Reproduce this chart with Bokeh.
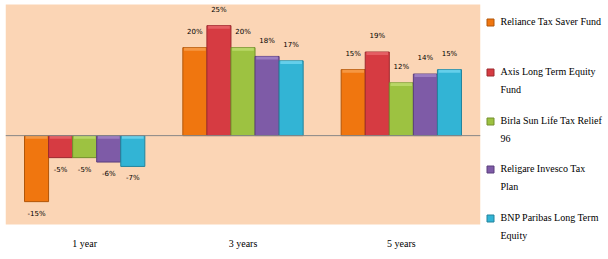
from bokeh.plotting import figure
from bokeh.models import ColumnDataSource, FactorRange, Range1d, Span, BoxAnnotation
from bokeh.transform import dodge
from bokeh.layouts import row
from bokeh.core.properties import value
from bokeh.embed import file_html
from bokeh.resources import INLINE

categories = ["1 year", "3 years", "5 years"]
funds = ["Reliance Tax Saver Fund", "Axis Long Term Equity Fund",
         "Birla Sun Life Tax Relief 96", "Religare Invesco Tax Plan",
         "BNP Paribas Long Term Equity"]
legend_lines = ["Reliance Tax Saver Fund", "Axis Long Term Equity\nFund",
                "Birla Sun Life Tax Relief\n96", "Religare Invesco Tax\nPlan",
                "BNP Paribas Long Term\nEquity"]
reliance = [-15, 20, 15]
axis_ltef = [-5, 25, 19]
birla = [-5, 20, 12]
religare = [-6, 18, 14]
bnp = [-7, 17, 15]
series = [reliance, axis_ltef, birla, religare, bnp]

fills = ["#F0760F", "#D63B42", "#9DC241", "#7E5BA7", "#32B4D5"]
edges = ["#B0560A", "#9C2A2F", "#748F2E", "#5A3F7D", "#23839C"]
tops = ["#F8A050", "#E8686C", "#C0DC70", "#A486C8", "#70D6F0"]

SERIF = "Liberation Serif"
Y_MIN, Y_MAX = -20.2, 29.8  # plot-area value range

p = figure(width=482, height=259, x_range=FactorRange(*categories, range_padding=0),
           y_range=Range1d(-28.15, 30.71), output_backend="svg", toolbar_location=None,
           x_axis_location=None, y_axis_location=None,
           min_border_left=5, min_border_right=2, min_border_top=0, min_border_bottom=0)
p.background_fill_color = "white"
p.border_fill_color = "white"
p.outline_line_color = None
p.xgrid.visible = False
p.ygrid.visible = False
p.add_layout(BoxAnnotation(top=Y_MAX, bottom=Y_MIN, fill_color="#FBD5B5", fill_alpha=1,
                           line_color=None, level="underlay"))

bw = 0.152
offsets = [-2 * bw, -bw, 0, bw, 2 * bw]
for vals, off, fc, ec, tc in zip(series, offsets, fills, edges, tops):
    src = ColumnDataSource(dict(
        cat=categories, val=vals,
        top=[max(v, 0) for v in vals],
        bot=[min(v, 0) for v in vals],
        htop=[max(v, 0) for v in vals],
        hbot=[max(v, 0) - 0.7 for v in vals],
        lab=[f"{v}%" for v in vals],
        laby=[v + 3.6 if v >= 0 else v - 2.7 for v in vals],
    ))
    x = dodge("cat", off, range=p.x_range)
    p.vbar(x=x, top="top", bottom="bot", width=bw, source=src,
           fill_color=fc, line_color=ec, line_width=1)
    p.vbar(x=x, top="htop", bottom="hbot", width=bw * 0.9, source=src,
           fill_color=tc, line_color=None, fill_alpha=0.8)
    p.text(x=x, y="laby", text="lab", source=src, text_align="center",
           text_baseline="middle", text_font=value("DejaVu Sans"),
           text_font_size="7px", text_color="#000000")

p.add_layout(Span(location=0, dimension="width", line_color="#868686", line_width=1))

# category labels under the plot area
csrc = ColumnDataSource(dict(cat=categories, y=[Y_MIN - 4.3] * len(categories)))
p.text(x="cat", y="y", text="cat", source=csrc, text_align="center",
       text_baseline="middle", text_font=value(SERIF), text_font_size="10px",
       text_color="#000000")

# legend panel: y range in pixels from the top
lg = figure(width=126, height=259, x_range=Range1d(0, 126), y_range=Range1d(259, 0),
            output_backend="svg", toolbar_location=None,
            x_axis_location=None, y_axis_location=None,
            min_border_left=0, min_border_right=0, min_border_top=0, min_border_bottom=0)
lg.grid.visible = False
lg.outline_line_color = None
lg.background_fill_color = "white"
lg.border_fill_color = "white"
ly = [22, 72, 121, 169, 218]
lsrc = ColumnDataSource(dict(x=[8] * 5, y=ly, ty=[v - 7 for v in ly],
                             tx=[18] * 5, lab=legend_lines, fc=fills, ec=edges))
lg.rect(x="x", y="y", width=7, height=7, source=lsrc, fill_color="fc", line_color="ec")
lg.text(x="tx", y="ty", text="lab", source=lsrc, text_baseline="top",
        text_font=value(SERIF), text_font_size="10px", text_line_height=1.7,
        text_color="#000000")

layout = row(p, lg)
open("out.html", "w").write(file_html(layout, INLINE))
